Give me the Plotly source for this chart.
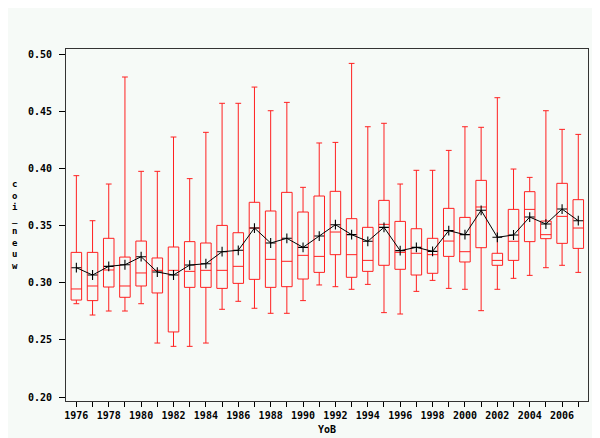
import plotly.graph_objects as go

years = list(range(1976, 2008))
upper = [0.3936, 0.3542, 0.3863, 0.4799, 0.3974, 0.3974, 0.4274, 0.3910, 0.4315, 0.4569,
         0.4569, 0.4711, 0.4504, 0.4577, 0.3834, 0.4222, 0.4227, 0.4918, 0.4364, 0.4394,
         0.3863, 0.3983, 0.3983, 0.4157, 0.4364, 0.4359, 0.4618, 0.3994, 0.3921, 0.4504,
         0.4341, 0.4297]
q3 = [0.3265, 0.3265, 0.3388, 0.3224, 0.3364, 0.3216, 0.3312, 0.3359, 0.3347, 0.3501,
      0.3437, 0.3703, 0.3627, 0.3790, 0.3618, 0.3758, 0.3799, 0.3560, 0.3484, 0.3720,
      0.3536, 0.3472, 0.3388, 0.3650, 0.3571, 0.3895, 0.3257, 0.3641, 0.3796, 0.3539,
      0.3869, 0.3726]
median = [0.2945, 0.2971, 0.3111, 0.2971, 0.3085, 0.3108, 0.3108, 0.3099, 0.3108, 0.3108,
          0.3143, 0.3478, 0.3204, 0.3187, 0.3239, 0.3230, 0.3443, 0.3245, 0.3195, 0.3510,
          0.3265, 0.3257, 0.3245, 0.3364, 0.3271, 0.3662, 0.3195, 0.3362, 0.3641, 0.3420,
          0.3580, 0.3478]
q1 = [0.2848, 0.2843, 0.2962, 0.2872, 0.2971, 0.2910, 0.2569, 0.2959, 0.2959, 0.2950,
      0.2994, 0.3029, 0.2959, 0.2965, 0.3032, 0.3090, 0.3245, 0.3047, 0.3099, 0.3152,
      0.3117, 0.3067, 0.3082, 0.3230, 0.3181, 0.3306, 0.3152, 0.3195, 0.3359, 0.3385,
      0.3344, 0.3300]
lower = [0.2816, 0.2717, 0.2752, 0.2752, 0.2816, 0.2472, 0.2443, 0.2443, 0.2472, 0.2767,
         0.2837, 0.2776, 0.2732, 0.2732, 0.2843, 0.2980, 0.2965, 0.2942, 0.2985, 0.2738,
         0.2726, 0.2924, 0.3020, 0.2950, 0.2942, 0.2755, 0.2942, 0.3038, 0.3064, 0.3131,
         0.3152, 0.3090]
mean = [0.3131, 0.3067, 0.3143, 0.3157, 0.3227, 0.3093, 0.3067, 0.3154, 0.3166, 0.3271,
        0.3283, 0.3478, 0.3347, 0.3388, 0.3309, 0.3408, 0.3507, 0.3420, 0.3362, 0.3484,
        0.3280, 0.3309, 0.3274, 0.3455, 0.3420, 0.3633, 0.3397, 0.3417, 0.3574, 0.3513,
        0.3644, 0.3542]
y_ticks = [0.20, 0.25, 0.30, 0.35, 0.40, 0.45, 0.50]
x_labels = [str(y) if y % 2 == 0 else "" for y in years]

BG = "#F6FAF7"
RED = "#FF2020"
FONT = "DejaVu Sans Mono"

fig = go.Figure()
fig.add_trace(go.Box(
    x=years, q1=q1, median=median, q3=q3, lowerfence=lower, upperfence=upper,
    width=0.65, whiskerwidth=0.55, line=dict(color=RED, width=1),
    fillcolor="rgba(0,0,0,0)", boxpoints=False, showlegend=False, hoverinfo="skip",
))
fig.add_trace(go.Scatter(
    x=years, y=mean, mode="lines+markers",
    line=dict(color="black", width=1),
    marker=dict(symbol="cross-thin", size=7, line=dict(color="black", width=1.1)),
    showlegend=False,
))

fig.update_layout(
    width=600, height=438,
    margin=dict(l=58, r=20, t=41, b=45),
    paper_bgcolor=BG, plot_bgcolor=BG,
    font=dict(family=FONT, size=10, color="black"),
    xaxis=dict(
        range=[1975.36, 2007.6], tickmode="array", tickvals=years, ticktext=x_labels,
        ticks="outside", ticklen=5, tickcolor="black", showgrid=False, zeroline=False,
        showline=True, linecolor="#333333", mirror=True, linewidth=1,
        tickfont=dict(family=FONT, size=10, color="black", weight="bold"),
        title=dict(text="<b>YoB</b>", font=dict(family=FONT, size=10), standoff=5),
    ),
    yaxis=dict(
        range=[0.1965, 0.5044], tickmode="array", tickvals=y_ticks,
        ticktext=[f"{v:.2f}" for v in y_ticks],
        ticks="outside", ticklen=6, tickcolor="black", showgrid=False, zeroline=False,
        showline=True, linecolor="#333333", mirror=True, linewidth=1,
        ticklabelstandoff=5,
        tickfont=dict(family=FONT, size=10, color="black", weight="bold"),
    ),
    annotations=[dict(
        text="<br>".join("<b>%s</b>" % c for c in "coi_neuw"),
        xref="paper", yref="paper", x=-0.098, y=0.5, xanchor="center", yanchor="middle",
        showarrow=False, font=dict(family=FONT, size=9, color="black"),
    )],
)

fig.write_html("out.html")
